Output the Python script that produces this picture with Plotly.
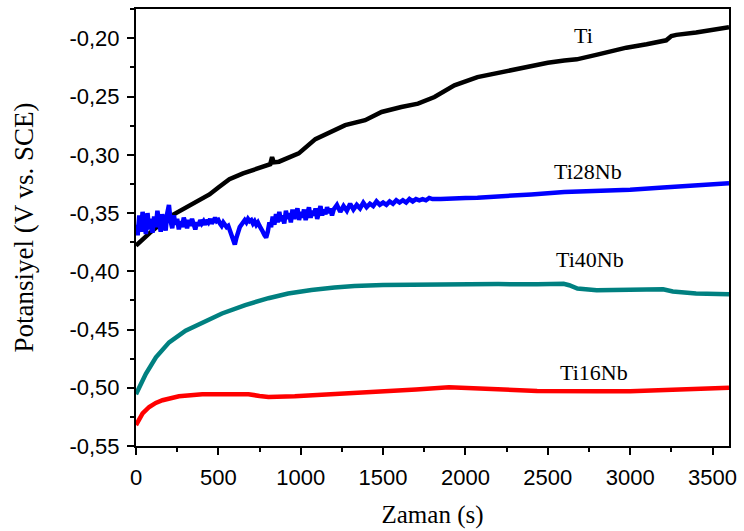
import plotly.graph_objects as go

# ---- data ----
ti_t = [0, 84, 205, 265, 350, 446, 500, 567, 650, 750, 815, 826, 837, 868, 988, 1089, 1180, 1270,
        1391, 1491, 1611, 1712, 1812, 1933, 2073, 2194, 2300, 2400, 2500, 2600, 2676, 2800,
        2977, 3100, 3219, 3250, 3280, 3400, 3500, 3600]
ti_v = [-0.378, -0.367, -0.353, -0.3485, -0.342, -0.334, -0.328, -0.321, -0.316, -0.311, -0.308,
        -0.302, -0.3065, -0.3059, -0.2988, -0.2865, -0.2800, -0.2745, -0.2703, -0.2632, -0.2589,
        -0.2561, -0.2504, -0.2404, -0.2333, -0.2296, -0.2265, -0.2235, -0.2210, -0.2190, -0.218,
        -0.214, -0.208, -0.205, -0.2017, -0.198, -0.197, -0.195, -0.193, -0.1905]

ti28_t = list(range(0, 1201, 10)) + list(range(1220, 1801, 20)) + [1850, 1900, 1950, 2000, 2073,
                                                                   2200, 2400, 2600, 2800, 3000,
                                                                   3200, 3400, 3600]
ti28_v = [-0.360, -0.369, -0.352, -0.366, -0.349, -0.362, -0.368, -0.350, -0.364, -0.355,
          -0.367, -0.353, -0.362, -0.348, -0.360, -0.366, -0.351, -0.359, -0.365, -0.350,
          -0.343, -0.357, -0.363, -0.352, -0.360, -0.355, -0.364, -0.357, -0.362, -0.354,
          -0.360, -0.363, -0.356, -0.361, -0.355, -0.360, -0.364, -0.358, -0.361, -0.356,
          -0.359, -0.357, -0.360, -0.356, -0.358, -0.355, -0.359, -0.357, -0.354, -0.357,
          -0.356, -0.359, -0.361, -0.358, -0.360, -0.362, -0.361, -0.365, -0.368, -0.372,
          -0.377, -0.371, -0.366, -0.362, -0.360, -0.358, -0.356, -0.358, -0.355, -0.357,
          -0.356, -0.359, -0.357, -0.360, -0.358, -0.361, -0.363, -0.366, -0.369, -0.371,
          -0.366, -0.358, -0.362, -0.353, -0.360, -0.351, -0.358, -0.349, -0.357, -0.352,
          -0.359, -0.348, -0.355, -0.350, -0.358, -0.347, -0.355, -0.351, -0.346, -0.356,
          -0.349, -0.354, -0.347, -0.356, -0.350, -0.345, -0.354, -0.348, -0.352, -0.346,
          -0.355, -0.349, -0.344, -0.352, -0.347, -0.351, -0.345, -0.350, -0.346, -0.352,
          -0.347,
          -0.343, -0.349, -0.344, -0.348, -0.342, -0.347, -0.343, -0.346, -0.341, -0.345,
          -0.342, -0.344, -0.340, -0.343, -0.341, -0.343, -0.340, -0.342, -0.339, -0.341,
          -0.339, -0.341, -0.338, -0.340, -0.338, -0.339, -0.338, -0.339, -0.337, -0.338,
          -0.338, -0.3375, -0.3378, -0.337, -0.3368, -0.336, -0.334, -0.332, -0.331, -0.330,
          -0.328, -0.326, -0.3245]

ti40_t = [0, 20, 60, 121, 201, 301, 402, 522, 663, 804, 924, 1065, 1205, 1326, 1500, 1800,
          2000, 2200, 2435, 2596, 2630, 2680, 2797, 3000, 3158, 3200, 3259, 3400, 3600]
ti40_v = [-0.5055, -0.499, -0.488, -0.4738, -0.461, -0.451, -0.4439, -0.4362, -0.429, -0.4231,
          -0.4191, -0.416, -0.414, -0.4126, -0.4118, -0.4112, -0.411, -0.411, -0.4111, -0.4108,
          -0.412, -0.4148, -0.4163, -0.4155, -0.4148, -0.4155, -0.4174, -0.419, -0.4197]

ti16_t = [0, 20, 40, 80, 120, 161, 261, 402, 583, 683, 750, 804, 964, 1125, 1326, 1500, 1700,
          1900, 2000, 2200, 2435, 2800, 3000, 3300, 3600]
ti16_v = [-0.532, -0.527, -0.522, -0.5165, -0.513, -0.5107, -0.5073, -0.5056, -0.505, -0.5056,
          -0.507, -0.5079, -0.5073, -0.5062, -0.505, -0.5035, -0.5015, -0.4995, -0.5003, -0.5015,
          -0.5028, -0.503, -0.503, -0.5015, -0.500]

series_names = ["Ti", "Ti28Nb", "Ti40Nb", "Ti16Nb"]
series_colors = ["#000000", "#0000FF", "#008080", "#FF0000"]
label_x = [2718, 2742, 2754, 2779]
label_y = [-0.1974, -0.3144, -0.3895, -0.4868]

y_tickvals = [-0.55, -0.50, -0.45, -0.40, -0.35, -0.30, -0.25, -0.20]
y_ticktext = ["-0,55", "-0,50", "-0,45", "-0,40", "-0,35", "-0,30", "-0,25", "-0,20"]
x_tickvals = [0, 500, 1000, 1500, 2000, 2500, 3000, 3500]
x_ticktext = ["0", "500", "1000", "1500", "2000", "2500", "3000", "3500"]

fig = go.Figure()
for (t, v), name, col in zip([(ti_t, ti_v), (ti28_t, ti28_v), (ti40_t, ti40_v), (ti16_t, ti16_v)],
                             series_names, series_colors):
    fig.add_trace(go.Scatter(x=t, y=v, mode="lines", name=name,
                             line=dict(color=col, width=4.5), showlegend=False))

for name, lx, ly in zip(series_names, label_x, label_y):
    fig.add_annotation(x=lx, y=ly, text=name, showarrow=False, xanchor="center", yanchor="middle",
                       font=dict(family="Liberation Serif", size=22, color="black"))

axis_common = dict(showline=True, linecolor="black", linewidth=2, mirror=True, ticks="outside",
                   ticklen=7, tickwidth=1.5, tickcolor="black", showgrid=False, zeroline=False,
                   tickfont=dict(family="Liberation Sans", size=22, color="black"))

fig.update_xaxes(range=[0, 3600], tickmode="array", tickvals=x_tickvals, ticktext=x_ticktext,
                 ticklabelstandoff=4,
                 minor=dict(dtick=250, tick0=0, ticks="outside", ticklen=4, tickwidth=1.5,
                            tickcolor="black", showgrid=False),
                 title=dict(text="Zaman (s)", font=dict(family="Liberation Serif", size=25,
                                                        color="black"), standoff=16),
                 **axis_common)
fig.update_yaxes(range=[-0.55, -0.1748], tickmode="array", tickvals=y_tickvals, ticktext=y_ticktext,
                 ticklabelstandoff=3,
                 minor=dict(dtick=0.025, tick0=-0.55, ticks="outside", ticklen=4, tickwidth=1.5,
                            tickcolor="black", showgrid=False),
                 title=dict(text="Potansiyel (V vs. SCE)", font=dict(family="Liberation Serif",
                                                                      size=27, color="black"),
                            standoff=28),
                 **axis_common)

fig.update_layout(width=744, height=531, margin=dict(l=136, r=11, t=7, b=85),
                  plot_bgcolor="white", paper_bgcolor="white")

fig.write_html("out.html")
